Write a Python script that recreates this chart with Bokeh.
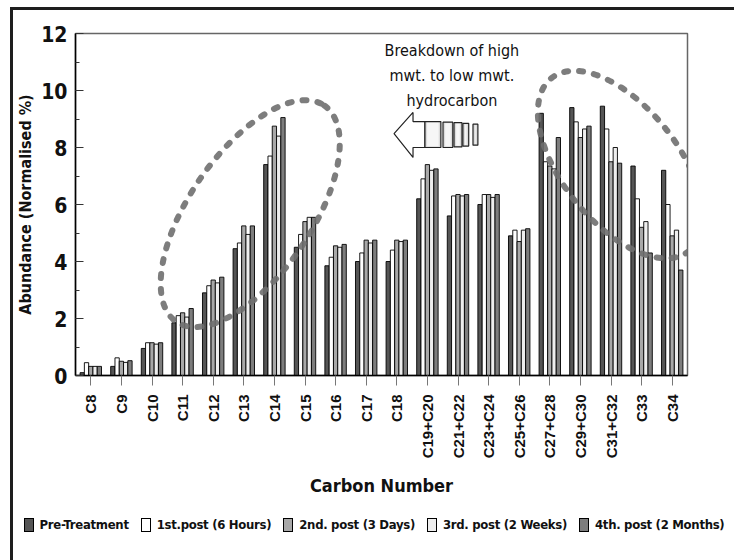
import math

from bokeh.core.properties import value
from bokeh.embed import file_html
from bokeh.layouts import column
from bokeh.models import Div, FactorRange, Range1d, SingleIntervalTicker
from bokeh.plotting import figure
from bokeh.resources import INLINE
from bokeh.transform import dodge

# ---------------------------------------------------------------- data
carbon = ["C8", "C9", "C10", "C11", "C12", "C13", "C14", "C15", "C16", "C17",
          "C18", "C19+C20", "C21+C22", "C23+C24", "C25+C26", "C27+C28",
          "C29+C30", "C31+C32", "C33", "C34"]

series_names = ["Pre-Treatment", "1st.post (6 Hours)", "2nd. post (3 Days)",
                "3rd. post (2 Weeks)", "4th. post (2 Months)"]

pre_treatment = [0.10, 0.32, 0.95, 1.85, 2.90, 4.45, 7.40, 4.50, 3.85, 4.00,
                 4.00, 6.20, 5.60, 6.00, 4.90, 9.20, 9.40, 9.45, 7.35, 7.20]
post_6_hours = [0.45, 0.62, 1.15, 2.10, 3.15, 4.65, 7.70, 4.95, 4.15, 4.30,
                4.40, 6.90, 6.30, 6.35, 5.10, 7.50, 8.90, 8.65, 6.20, 6.00]
post_3_days = [0.32, 0.50, 1.15, 2.20, 3.35, 5.25, 8.75, 5.40, 4.55, 4.75,
               4.75, 7.40, 6.35, 6.35, 4.70, 7.35, 8.35, 7.50, 5.20, 4.90]
post_2_weeks = [0.32, 0.46, 1.10, 2.05, 3.25, 4.95, 8.40, 5.55, 4.50, 4.65,
                4.70, 7.20, 6.30, 6.25, 5.10, 7.25, 8.65, 8.00, 5.40, 5.10]
post_2_months = [0.32, 0.52, 1.15, 2.35, 3.45, 5.25, 9.05, 5.55, 4.60, 4.75,
                 4.75, 7.25, 6.35, 6.35, 5.15, 8.35, 8.75, 7.45, 4.30, 3.70]

annotation_lines = ["Breakdown of high", "mwt. to low mwt.", "hydrocarbon"]

# ---------------------------------------------------------------- styling
NARROW = "DejaVu Sans Condensed"
REGULAR = "Liberation Sans"
fills = ["#555555", "#ffffff", "#a8a8a8", "#eeeeee", "#7d7d7d"]
offsets = [-0.28, -0.14, 0.0, 0.14, 0.28]
bar_w = 0.14

source = dict(carbon=carbon, s0=pre_treatment, s1=post_6_hours, s2=post_3_days,
              s3=post_2_weeks, s4=post_2_months)

p = figure(x_range=FactorRange(factors=carbon, range_padding=0),
           y_range=Range1d(0, 12),
           width=712, height=495,
           output_backend="svg", toolbar_location=None,
           min_border_left=61, min_border_right=38,
           min_border_top=23, min_border_bottom=130)

p.background_fill_color = "white"
p.border_fill_color = "white"
p.outline_line_color = "#666666"
p.outline_line_width = 1.5
p.xgrid.grid_line_color = None
p.ygrid.grid_line_color = None

for i, name in enumerate(series_names):
    p.vbar(x=dodge("carbon", offsets[i], range=p.x_range), top=f"s{i}",
           width=bar_w, source=source, fill_color=fills[i],
           line_color="black", line_width=0.9)

# x axis
xa = p.xaxis[0]
xa.axis_line_color = "black"
xa.axis_line_width = 1.5
xa.major_tick_line_color = "#777777"
xa.major_tick_in = 0
xa.major_tick_out = 10
xa.major_label_orientation = math.pi / 2
xa.major_label_standoff = 9
xa.major_label_text_font = REGULAR
xa.major_label_text_font_style = "bold"
xa.major_label_text_font_size = "15px"
xa.major_label_text_color = "#111111"
xa.axis_label = "Carbon Number"
xa.axis_label_text_font = NARROW
xa.axis_label_text_font_style = "bold"
xa.axis_label_text_font_size = "18px"
xa.axis_label_text_color = "#111111"
xa.axis_label_standoff = 14

# y axis
ya = p.yaxis[0]
ya.ticker = SingleIntervalTicker(interval=2, num_minor_ticks=2)
ya.axis_line_color = "black"
ya.axis_line_width = 1.5
ya.major_tick_in = 8
ya.major_tick_out = 0
ya.minor_tick_in = 4
ya.minor_tick_out = 0
ya.major_tick_line_color = "#333333"
ya.minor_tick_line_color = "#333333"
ya.major_label_standoff = 8
ya.major_label_text_font = NARROW
ya.major_label_text_font_style = "bold"
ya.major_label_text_font_size = "21px"
ya.major_label_text_color = "#111111"
ya.axis_label = "Abundance (Normalised %)"
ya.axis_label_text_font = NARROW
ya.axis_label_text_font_style = "bold"
ya.axis_label_text_font_size = "16px"
ya.axis_label_text_color = "#111111"
ya.axis_label_standoff = 3

# the category axis also accepts plain numbers (0..20 across the frame),
# which is how the notes below are positioned

# dotted rings around the two groups of peaks
ring = dict(width_units="screen", height_units="screen",
            fill_color=None, line_color="#6f6f6f", line_width=6,
            line_dash="4 11", line_cap="round", line_alpha=0.9)
p.ellipse(x=[5.71], y=[5.68], width=[262], height=[122], angle=[0.97], **ring)
p.ellipse(x=[17.80], y=[7.40], width=[221], height=[116], angle=[-0.90], **ring)

# block arrow pointing towards the short chains
p.patch(x=[10.41, 11.03, 11.03, 11.42, 11.42, 11.03, 11.03],
        y=[8.49, 9.23, 8.91, 8.91, 8.00, 8.00, 7.65],
        fill_color="white", line_color="#222222", line_width=1.2)
seg_left = [11.42, 12.01, 12.37, 12.66, 12.99]
seg_right = [11.94, 12.33, 12.63, 12.85, 13.15]
seg_top = [8.91, 8.89, 8.87, 8.85, 8.82]
seg_bottom = [8.00, 8.00, 8.02, 8.05, 8.08]
p.quad(left=seg_left, right=seg_right, top=seg_top, bottom=seg_bottom,
       fill_color="#dcdcdc", line_color="#222222", line_width=1.2)
p.quad(left=[l + 0.07 for l in seg_left], right=[r - 0.07 for r in seg_right],
       top=[t - 0.04 for t in seg_top], bottom=[b + 0.04 for b in seg_bottom],
       fill_color="#f6f6f6", line_color=None)

p.text(x=[12.30, 12.30, 12.30], y=[11.40, 10.52, 9.66], text=annotation_lines,
       text_align="center", text_baseline="middle",
       text_font=value(NARROW), text_font_size="16px", text_color="#111111")

# ---------------------------------------------------------------- legend strip
item_html = []
for name, fill in zip(series_names, fills):
    item_html.append(
        "<span style='display:inline-flex;align-items:center;margin:0 6px;'>"
        f"<span style='display:inline-block;width:10px;height:14px;"
        f"background:{fill};border:1px solid #000;margin-right:6px;'></span>"
        f"<span>{name}</span></span>")
legend_div = Div(
    text=("<div style=\"display:flex;justify-content:center;align-items:center;"
          "width:712px;height:30px;font-family:'DejaVu Sans Condensed';"
          "font-weight:bold;font-size:13px;letter-spacing:-0.3px;"
          "color:#111;white-space:nowrap;\">" + "".join(item_html) + "</div>"),
    width=712, height=50)

page = column(p, legend_div, spacing=0,
              styles={"margin-left": "10px", "margin-top": "7px",
                      "border-style": "solid", "border-color": "#1e1e1e",
                      "border-width": "3px 3px 0 3px"})

open("out.html", "w").write(file_html(page, INLINE))
